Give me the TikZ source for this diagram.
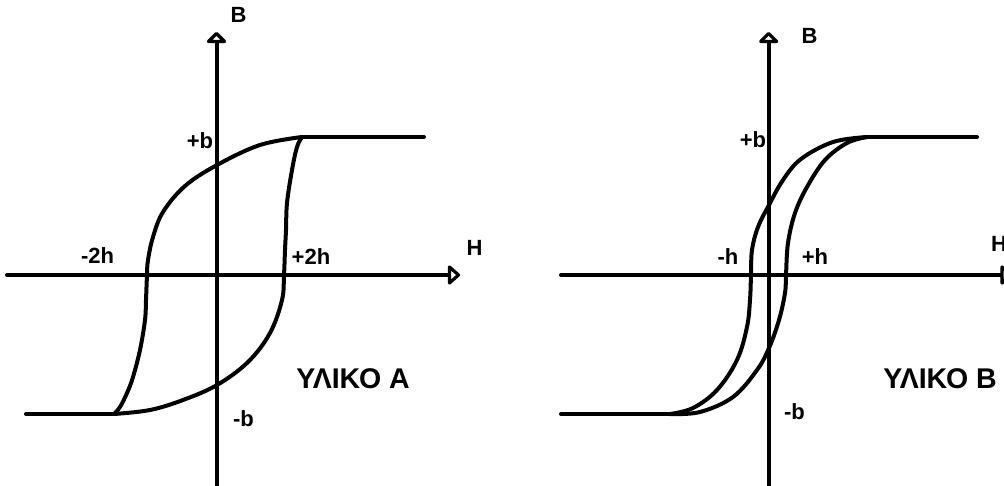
\documentclass[tikz,border=0pt]{standalone}
\usepackage{fontspec}
\setmainfont{Liberation Sans}
\begin{document}
\begin{tikzpicture}[x=1pt,y=-1pt,
  axisplain/.style={line width=4pt,line cap=round},
  tiphead/.style={line width=3.2pt,line join=round,fill=white},
  curve/.style={line width=4pt,line cap=round,line join=round},
  lbl/.style={font=\fontsize{22}{26}\selectfont\bfseries,inner sep=0pt},
  ttl/.style={font=\fontsize{28.5}{32}\selectfont\bfseries,inner sep=0pt}]
\useasboundingbox (0,0) rectangle (1004,485);
\fill[white] (0,0) rectangle (1004,485);
% ---------- Panel A ----------
\coordinate (AyB) at (216.5,487);
\coordinate (AyT) at (216.5,41.5);
\coordinate (AxL) at (7,275);
\coordinate (AxR) at (449.5,275);
\draw[axisplain] (AyB) -- (AyT);
\draw[axisplain] (AxL) -- (AxR);
\draw[tiphead] (216.5,33.5) -- (208.5,41.5) -- (224.5,41.5) -- cycle;
\draw[tiphead] (458.5,275) -- (449.5,267) -- (449.5,283) -- cycle;
\coordinate (AtopC) at (302,137);
\coordinate (AtopE) at (424,137);
\coordinate (AbotC) at (114,414);
\coordinate (AbotE) at (26,414);
\draw[curve] (AtopE) -- (AtopC);
\draw[curve] (AbotE) -- (AbotC);
\draw[curve] plot[smooth,tension=0.6] coordinates {(302,137) (260,145) (217,165) (185,186) (163,212) (153,237) (148,260) (147,275) (146,300) (145,320) (140,350) (133,377) (127,393) (120,407) (114,414)};
\draw[curve] plot[smooth,tension=0.6] coordinates {(114,414) (150,410) (183,400) (217,385) (248,362) (270,333) (282,300) (284,275) (285,250) (286,230) (287,203) (292,170) (297,147) (302,137)};
\node[lbl] (AB) at (238.5,15) {B};
\node[lbl] (AH) at (474.5,247.5) {H};
\node[lbl] (Apb) at (200,141) {+b};
\node[lbl] (Amb) at (243.5,419) {-b};
\node[lbl] (Am2h) at (97.5,256) {-2h};
\node[lbl] (Ap2h) at (311,257) {+2h};
\node[ttl] (At) at (353,379) {ΥΛΙΚΟ Α};
% ---------- Panel B ----------
\coordinate (ByB) at (768.7,487);
\coordinate (ByT) at (768.7,41.5);
\coordinate (BxL) at (561,275);
\coordinate (BxR) at (1002,275);
\draw[axisplain] (ByB) -- (ByT);
\draw[axisplain] (BxL) -- (BxR);
\draw[tiphead] (768.7,33.5) -- (760.7,41.5) -- (776.7,41.5) -- cycle;
\draw[tiphead] (1011,275) -- (1002,267) -- (1002,283) -- cycle;
\coordinate (BtopC) at (867,137);
\coordinate (BtopE) at (977,137);
\coordinate (BbotC) at (670,414);
\coordinate (BbotE) at (561,414);
\draw[curve] (BtopE) -- (BtopC);
\draw[curve] (BbotE) -- (BbotC);
\draw[curve] plot[smooth,tension=0.6] coordinates {(867,137) (833,142) (801,159) (783,180) (769,205) (758,227) (752,250) (751,275) (750,300) (747,327) (737,360) (717,390) (693,408) (670,414)};
\draw[curve] plot[smooth,tension=0.6] coordinates {(670,414) (700,412) (733,397) (757,370) (769,348) (779,320) (785,293) (786,275) (788,243) (795,213) (807,187) (825,160) (847,143) (867,137)};
\node[lbl] (BB) at (809.5,36) {B};
\node[lbl,anchor=west] (BH) at (991,244) {H};
\node[lbl] (Bpb) at (753,140) {+b};
\node[lbl] (Bmb) at (794.5,412) {-b};
\node[lbl] (Bmh) at (728,257) {-h};
\node[lbl] (Bph) at (815,257) {+h};
\node[ttl] (Bt) at (940,379) {ΥΛΙΚΟ Β};
\end{tikzpicture}
\end{document}
